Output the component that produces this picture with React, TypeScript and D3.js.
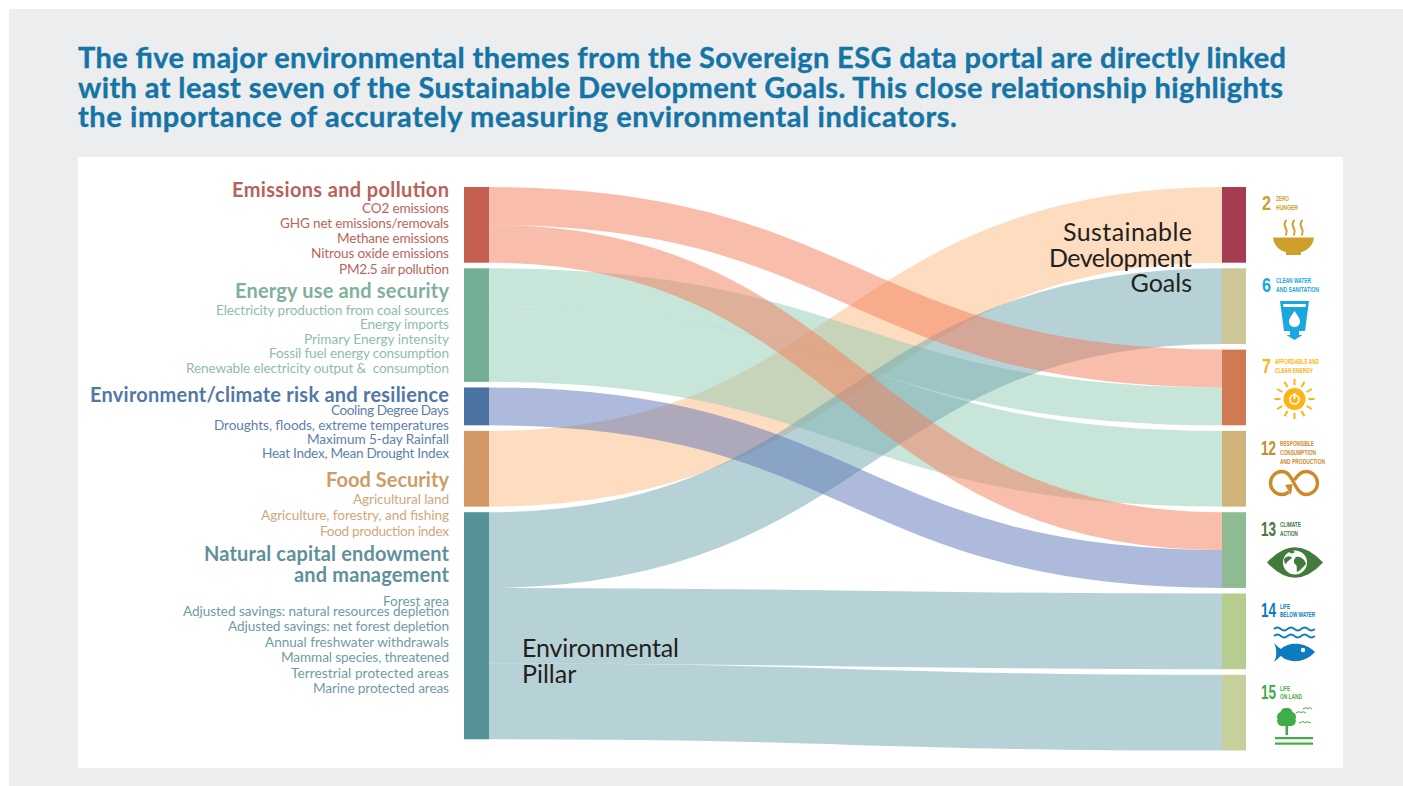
import React from "react";
import * as d3 from "d3";

const titleLines = [
  "The five major environmental themes from the Sovereign ESG data portal are directly linked",
  "with at least seven of the Sustainable Development Goals. This close relationship highlights",
  "the importance of accurately measuring environmental indicators.",
];
const themes = ["Emissions", "Energy", "Climate", "Food", "Natural"];
const goals = ["2", "6", "7", "12", "13", "14", "15"];
const linkSources = ["Emissions", "Emissions", "Energy", "Energy", "Climate", "Food", "Natural", "Natural", "Natural"];
const linkTargets = ["7", "13", "7", "12", "13", "2", "6", "14", "15"];
const linkValues = [1, 1, 1, 2, 1, 2, 2, 2, 2];
const drawOrder = ["Food", "Energy", "Natural", "Climate", "Emissions"];

const themeColor: Record<string, string> = { Emissions: "#c46050", Energy: "#74ae95", Climate: "#4a72a3", Food: "#d29866", Natural: "#559199" };
const linkColor: Record<string, string> = { Emissions: "#f37b59", Energy: "#91cbb3", Climate: "#5b75b8", Food: "#fdb97f", Natural: "#6fa6ad" };
const goalColor: Record<string, string> = { "2": "#a63c52", "6": "#cdc698", "7": "#cf7a52", "12": "#cfb37b", "13": "#8fbb93", "14": "#b7cc8f", "15": "#c6d09b" };

type L = [string, number, number, string, boolean];
const labels: L[] = [
  ["Emissions and pollution", 232, 197, "#b8625a", true],
  ["CO2 emissions", 362, 213, "#bb665c", false],
  ["GHG net emissions/removals", 280, 228, "#bb665c", false],
  ["Methane emissions", 337, 243, "#bb665c", false],
  ["Nitrous oxide emissions", 311, 258, "#bb665c", false],
  ["PM2.5 air pollution", 339, 274, "#bb665c", false],
  ["Energy use and security", 235, 298, "#7fb09b", true],
  ["Electricity production from coal sources", 216, 315, "#90bca9", false],
  ["Energy imports", 360, 329, "#90bca9", false],
  ["Primary Energy intensity", 304, 344, "#90bca9", false],
  ["Fossil fuel energy consumption", 269, 358, "#90bca9", false],
  ["Renewable electricity output &  consumption", 186, 373, "#90bca9", false],
  ["Environment/climate risk and resilience", 90, 402, "#5277a6", true],
  ["Cooling Degree Days", 331, 415, "#5f7fab", false],
  ["Droughts, floods, extreme temperatures", 214, 430, "#5f7fab", false],
  ["Maximum 5-day Rainfall", 307, 444, "#5f7fab", false],
  ["Heat Index, Mean Drought Index", 262, 458, "#5f7fab", false],
  ["Food Security", 326, 487, "#cc9d69", true],
  ["Agricultural land", 353, 504, "#d2a77b", false],
  ["Agriculture, forestry, and fishing", 261, 520, "#d2a77b", false],
  ["Food production index", 320, 536, "#d2a77b", false],
  ["Natural capital endowment", 204, 561, "#5f919a", true],
  ["and management", 294, 582, "#5f919a", true],
  ["Forest area", 383, 606, "#6f9ca5", false],
  ["Adjusted savings: natural resources depletion", 183, 616, "#6f9ca5", false],
  ["Adjusted savings: net forest depletion", 228, 631, "#6f9ca5", false],
  ["Annual freshwater withdrawals", 265, 647, "#6f9ca5", false],
  ["Mammal species, threatened", 281, 662, "#6f9ca5", false],
  ["Terrestrial protected areas", 291, 678, "#6f9ca5", false],
  ["Marine protected areas", 313, 693, "#6f9ca5", false],
];

const W = 1403, H = 786;
const FONT = "Lato, 'Noto Sans', sans-serif";
const NARROW = "'Liberation Sans Narrow', 'Liberation Sans', sans-serif";
const nodeWidth = 25, leftX = 464, rightX = 1222, top = 187, gap = 5.6;
const k = d3.scaleLinear().domain([0, 1]).range([0, 37.85]);

function stack(names: string[], key: string[]) {
  let y = top;
  const out: Record<string, { y: number; h: number; off: number }> = {};
  names.forEach((n) => {
    const h = k(d3.sum(linkValues.filter((_, i) => key[i] === n)));
    out[n] = { y, h, off: 0 };
    y += h + gap;
  });
  return out;
}
const leftNodes = stack(themes, linkSources);
const rightNodes = stack(goals, linkTargets);
const linkGen = d3.linkHorizontal<any, any>().source((d) => d.s).target((d) => d.t);
const ribbons = linkValues.map((v, i) => {
  const a = leftNodes[linkSources[i]], b = rightNodes[linkTargets[i]];
  const w = k(v);
  const s = [leftX + nodeWidth, a.y + a.off + w / 2];
  const t = [rightX, b.y + b.off + w / 2];
  a.off += w; b.off += w;
  return { key: i, src: linkSources[i], w, d: linkGen({ s, t }) as string };
});
const orderedRibbons = drawOrder.flatMap((n) => ribbons.filter((r) => r.src === n));

function Num({ t, x, y, w, c }: { t: string; x: number; y: number; w: number; c: string }) {
  return <text x={x} y={y} fontFamily={NARROW} fontWeight={700} fontSize={21} fill={c} textLength={w} lengthAdjust="spacingAndGlyphs">{t}</text>;
}
function Cap({ t, x, y, w, c }: { t: string; x: number; y: number; w: number; c: string }) {
  return <text x={x} y={y} fontFamily={NARROW} fontWeight={700} fontSize={8} fill={c} textLength={w} lengthAdjust="spacingAndGlyphs">{t}</text>;
}

function Icons() {
  const sunRays = d3.range(12).map((i) => (i * Math.PI) / 6);
  return (
    <g>
      {/* 2 */}
      <Num t="2" x={1262} y={210} w={9} c="#cf9f2c" />
      <Cap t="ZERO" x={1276} y={200.5} w={13} c="#cf9f2c" />
      <Cap t="HUNGER" x={1276} y={209.5} w={22} c="#cf9f2c" />
      <path d="M1273,237.5 H1314 C1313,246 1307,251 1301,252 V255 H1286 V252 C1280,251 1274,246 1273,237.5Z" fill="#cf9f2c" />
      {[1286, 1294, 1302].map((x) => (
        <path key={x} d={`M${x},220.5 c-3,4 -1,6 0,8 c1,2 1,4 0,6`} fill="none" stroke="#cf9f2c" strokeWidth={2} strokeLinecap="round" />
      ))}
      {/* 6 */}
      <Num t="6" x={1262} y={292} w={9} c="#19a7dd" />
      <Cap t="CLEAN WATER" x={1276} y={283} w={35} c="#19a7dd" />
      <Cap t="AND SANITATION" x={1276} y={292} w={43} c="#19a7dd" />
      <path d="M1280,301 H1309 L1305,331 H1299 V335 H1302.5 L1294.5,340 L1286.5,335 H1290 V331 H1284Z" fill="#19a7dd" />
      <path d="M1283,304 H1306 L1305.5,307 H1283.5Z" fill="#fff" />
      <path d="M1294.5,311 C1298,316 1300,319 1300,321.5 A5.5,5.5 0 0 1 1289,321.5 C1289,319 1291,316 1294.5,311Z" fill="#fff" />
      {/* 7 */}
      <Num t="7" x={1262} y={373} w={9} c="#fbb516" />
      <Cap t="AFFORDABLE AND" x={1275} y={364} w={44} c="#fbb516" />
      <Cap t="CLEAN ENERGY" x={1275} y={373} w={38} c="#fbb516" />
      <circle cx={1294.5} cy={399} r={11} fill="#fbb516" />
      {sunRays.map((a, i) => (
        <line key={i} x1={1294.5 + 14 * Math.cos(a)} y1={399 + 14 * Math.sin(a)} x2={1294.5 + 20 * Math.cos(a)} y2={399 + 20 * Math.sin(a)} stroke="#fbb516" strokeWidth={2} />
      ))}
      <circle cx={1294.5} cy={399.5} r={4.5} fill="none" stroke="#fff" strokeWidth={1.6} />
      <line x1={1294.5} y1={393} x2={1294.5} y2={399} stroke="#fff" strokeWidth={1.8} />
      {/* 12 */}
      <Num t="12" x={1261} y={455} w={15} c="#cd8a2b" />
      <Cap t="RESPONSIBLE" x={1280} y={446} w={34} c="#cd8a2b" />
      <Cap t="CONSUMPTION" x={1280} y={455} w={36} c="#cd8a2b" />
      <Cap t="AND PRODUCTION" x={1280} y={464} w={45} c="#cd8a2b" />
      <path d="M1289,492 C1286,494 1284,494.5 1282,494.5 A11.5,11.5 0 1 1 1282,471.5 C1294,471.5 1294,494.5 1306,494.5 A11.5,11.5 0 1 0 1306,471.5 C1300,471.5 1297,476 1294.5,480" fill="none" stroke="#cd8a2b" strokeWidth={3.4} />
      <path d="M1285,485 L1292.5,484 L1291,495Z" fill="#cd8a2b" />
      {/* 13 */}
      <Num t="13" x={1261} y={536} w={15} c="#437b3c" />
      <Cap t="CLIMATE" x={1280} y={527} w={21} c="#437b3c" />
      <Cap t="ACTION" x={1280} y={536} w={18} c="#437b3c" />
      <path d="M1267,562.5 Q1295,532 1323,562.5 Q1295,593 1267,562.5Z" fill="#437b3c" />
      <circle cx={1295} cy={562.5} r={12} fill="#fff" />
      <path d="M1284,559 C1287,555 1291,556 1292,558 C1290,560 1287,561 1286,564 C1285,564 1284,562 1284,559Z M1296,557 C1300,556 1305,559 1306,564 C1303,567 1300,571 1297,572 C1296,569 1298,566 1295,564 C1293,562 1294,559 1296,557Z M1288,551 C1291,550 1294,551 1295,552 C1293,554 1290,554 1288,551Z" fill="#437b3c" />
      {/* 14 */}
      <Num t="14" x={1261} y={617} w={15} c="#0c7bbf" />
      <Cap t="LIFE" x={1280} y={608.5} w={10} c="#0c7bbf" />
      <Cap t="BELOW WATER" x={1280} y={617} w={35} c="#0c7bbf" />
      {[629, 636].map((y) => (
        <path key={y} d={`M1274,${y} q3.4,-3 6.8,0 t6.8,0 t6.8,0 t6.8,0 t6.8,0 t6.8,0`} fill="none" stroke="#0c7bbf" strokeWidth={1.8} />
      ))}
      <path d="M1274,643 C1277,646 1279,648 1281,649 C1288,642 1304,641 1315,652 C1304,664 1288,663 1281,656 C1279,657 1277,660 1274,662 C1277,657 1277,649 1274,643Z" fill="#0c7bbf" />
      <circle cx={1303} cy={650} r={2.2} fill="#fff" />
      {/* 15 */}
      <Num t="15" x={1261} y={699} w={15} c="#3fae49" />
      <Cap t="LIFE" x={1280} y={690.5} w={10} c="#3fae49" />
      <Cap t="ON LAND" x={1280} y={699} w={22} c="#3fae49" />
      <path d="M1286.5,708 a5.5,5.5 0 0 1 6,4 a5,5 0 0 1 3,7 a5,5 0 0 1 -4,7 h-10 a5,5 0 0 1 -4,-7 a5,5 0 0 1 3,-7 a5.5,5.5 0 0 1 6,-4Z" fill="#3fae49" />
      <rect x={1285.5} y={724} width={2.6} height={11} fill="#3fae49" />
      <rect x={1275} y={737} width={38} height={2.2} fill="#3fae49" />
      <rect x={1275} y={742.5} width={38} height={2.2} fill="#3fae49" />
      {[[1296, 713, 4], [1303, 709, 3.5], [1299, 723, 5]].map(([x, y, s], i) => (
        <path key={i} d={`M${x},${y} q${s},-2.4 ${s + 1},0 q1,-2.4 ${s + 1},0`} fill="none" stroke="#3fae49" strokeWidth={1} />
      ))}
    </g>
  );
}

export default function App() {
  const titleWidths = [1208, 1205, 879];
  const titleY = [68, 97.5, 127];
  return (
    <svg width={W} height={H} viewBox={`0 0 ${W} ${H}`} style={{ position: "absolute", left: 0, top: 0, display: "block" }}>
      <rect x={0} y={0} width={W} height={H} fill="#fff" />
      <rect x={9} y={9} width={W - 9} height={H - 9} fill="#ebedef" />
      <rect x={78} y={157} width={1265} height={611} fill="#fff" />
      {titleLines.map((t, i) => (
        <text key={i} x={78} y={titleY[i]} fontFamily={FONT} fontWeight={700} fontSize={29} fill="#1474a5" stroke="#1474a5" strokeWidth={0.35} textLength={titleWidths[i]} lengthAdjust="spacing">{t}</text>
      ))}
      {orderedRibbons.map((r) => (
        <path key={r.key} d={r.d} fill="none" stroke={linkColor[r.src]} strokeOpacity={0.5} strokeWidth={r.w} />
      ))}
      {themes.map((n) => (
        <rect key={n} x={leftX} y={leftNodes[n].y} width={nodeWidth} height={leftNodes[n].h} fill={themeColor[n]} />
      ))}
      {goals.map((n) => (
        <rect key={n} x={rightX} y={rightNodes[n].y} width={nodeWidth - 1} height={rightNodes[n].h} fill={goalColor[n]} />
      ))}
      {labels.map(([t, x, y, c, head]) => (
        <text key={t} x={x} y={y} fontFamily={FONT} fontWeight={head ? 700 : 400} fontSize={head ? 20 : 13.6} fill={c} textLength={449 - x} lengthAdjust="spacing" xmlSpace="preserve">{t}</text>
      ))}
      <g fontFamily={FONT} fontSize={25} fill="#231f20">
        <text x={522} y={657} textLength={157}>Environmental</text>
        <text x={522} y={683}>Pillar</text>
        <text x={1192} y={241} textAnchor="end" textLength={129}>Sustainable</text>
        <text x={1192} y={267} textAnchor="end" textLength={143}>Development</text>
        <text x={1192} y={292} textAnchor="end">Goals</text>
      </g>
      <Icons />
    </svg>
  );
}
